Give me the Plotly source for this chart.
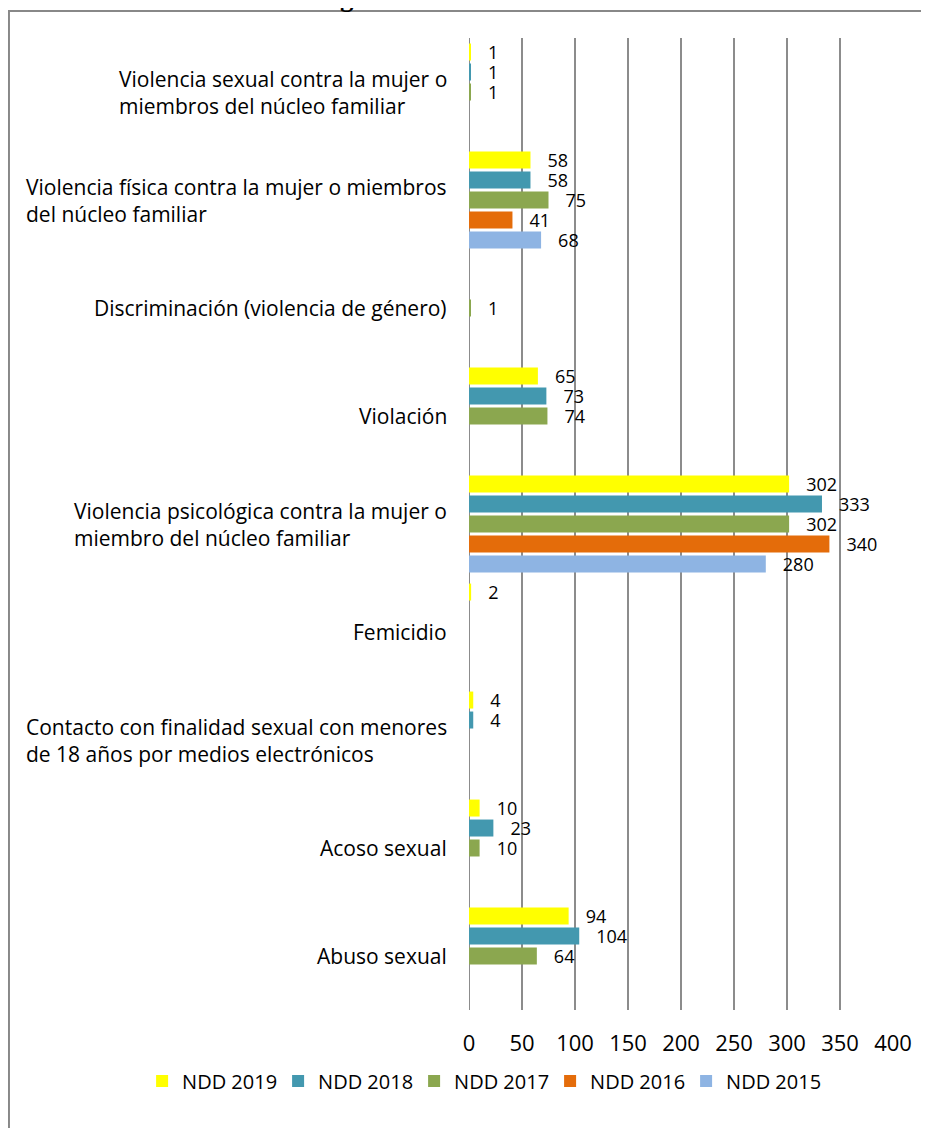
import plotly.graph_objects as go

categories = [
    "Violencia sexual contra la mujer o<br>miembros del núcleo familiar",
    "Violencia física contra la mujer o miembros<br>del núcleo familiar",
    "Discriminación (violencia de género)",
    "Violación",
    "Violencia psicológica contra la mujer o<br>miembro del núcleo familiar",
    "Femicidio",
    "Contacto con finalidad sexual con menores<br>de 18 años por medios electrónicos",
    "Acoso sexual",
    "Abuso sexual",
]
ndd_2019 = [1, 58, None, 65, 302, 2, 4, 10, 94]
ndd_2018 = [1, 58, None, 73, 333, None, 4, 23, 104]
ndd_2017 = [1, 75, 1, 74, 302, None, None, 10, 64]
ndd_2016 = [None, 41, None, None, 340, None, None, None, None]
ndd_2015 = [None, 68, None, None, 280, None, None, None, None]
series_names = ["NDD 2019", "NDD 2018", "NDD 2017", "NDD 2016", "NDD 2015"]
colors = ["#FFFF00", "#4398AF", "#8BA74F", "#E46C0A", "#8EB4E3"]
x_ticks = [0, 50, 100, 150, 200, 250, 300, 350, 400]

FONT = "Open Sans"
PAD = "\u00a0\u00a0\u00a0"
fig = go.Figure()
for name, vals, col in zip(series_names, [ndd_2019, ndd_2018, ndd_2017, ndd_2016, ndd_2015], colors):
    fig.add_trace(go.Bar(
        y=categories, x=vals, name=name, orientation="h",
        marker=dict(color=col, line=dict(width=0)),
        text=[("" if v is None else PAD + str(v)) for v in vals],
        textposition="outside", cliponaxis=False, constraintext="none",
        textfont=dict(family=FONT, size=18, color="#000000"),
    ))

for c in categories:
    fig.add_annotation(x=-0.047, xref="paper", y=c, yref="y", text=c,
                       xanchor="right", yanchor="middle", align="left",
                       showarrow=False, font=dict(family=FONT, size=21, color="#000000"))

fig.add_annotation(x=0.179, xref="paper", y=1.0245, yref="paper",
                   text="<b>Figura 73.</b>  Delitos violencia 2015 – 2019",
                   xanchor="center", yanchor="bottom", showarrow=False,
                   font=dict(family="Liberation Serif", size=27, color="#000000"))

fig.add_shape(type="rect", xref="paper", yref="paper",
              x0=-1.085, x1=1.12, y0=-0.14, y1=1.0278,
              line=dict(color="#888888", width=2), fillcolor="rgba(0,0,0,0)", layer="below")

fig.update_layout(
    width=921, height=1120,
    margin=dict(l=461, r=36, t=30, b=118, autoexpand=False),
    paper_bgcolor="white", plot_bgcolor="white",
    barmode="group", bargap=0.075, bargroupgap=0.15,
    showlegend=True,
    legend=dict(orientation="h", x=-0.771, xanchor="left", y=-0.073, yanchor="middle",
                font=dict(family=FONT, size=20, color="#000000"), traceorder="normal",
                itemwidth=30, entrywidth=91, entrywidthmode="pixels"),
    xaxis=dict(range=[0, 400], tickvals=x_ticks, showgrid=True, gridcolor="#8c8c8c", gridwidth=2,
               zeroline=False, showline=False, ticks="", ticklabelstandoff=18,
               tickfont=dict(family=FONT, size=22, color="#000000")),
    yaxis=dict(autorange="reversed", showticklabels=False, showgrid=False, zeroline=False,
               showline=False, ticks=""),
)
fig.add_vline(x=0, line=dict(color="#8c8c8c", width=2), layer="below")
fig.write_html("out.html")
